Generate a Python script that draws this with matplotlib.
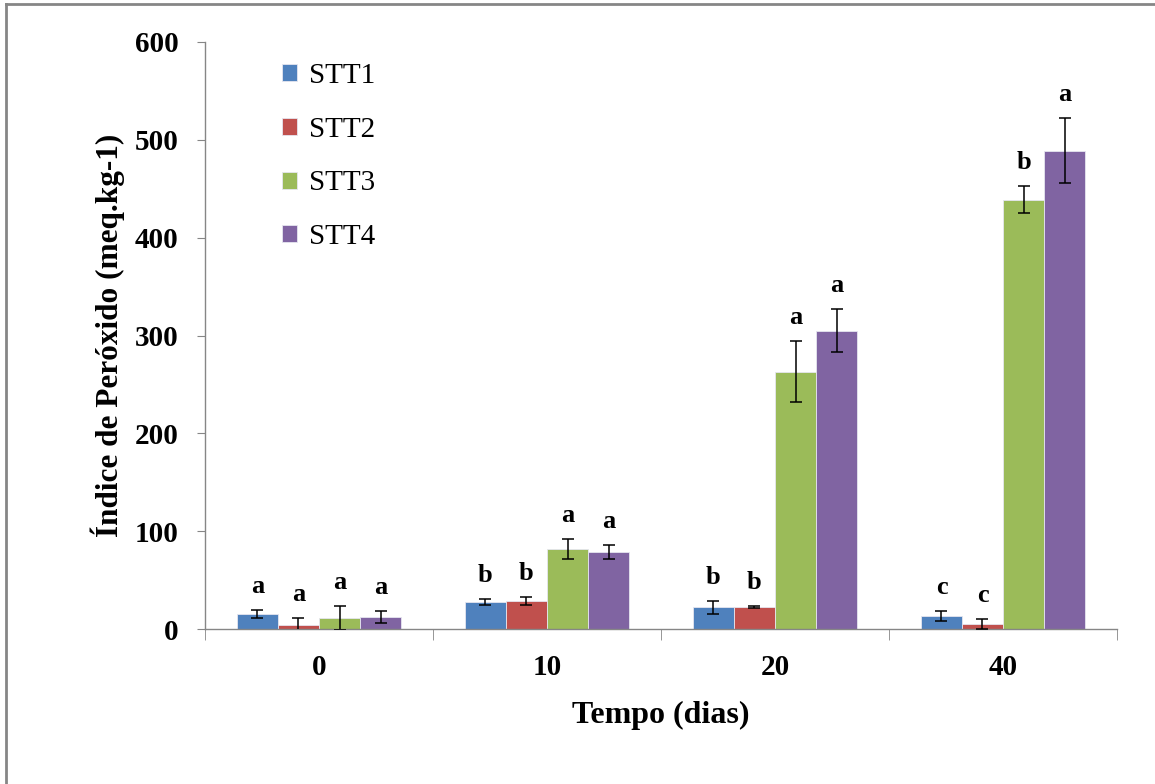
import matplotlib
matplotlib.use("Agg")
import matplotlib.pyplot as plt
import numpy as np
from matplotlib.lines import Line2D

days = ["0", "10", "20", "40"]
series = ["STT1", "STT2", "STT3", "STT4"]
values = {
    "STT1": [15, 28, 22, 13],
    "STT2": [4, 29, 22, 5],
    "STT3": [11, 82, 263, 439],
    "STT4": [12, 79, 305, 489],
}
errors = {
    "STT1": [4, 3, 7, 5],
    "STT2": [7, 4, 1, 5],
    "STT3": [12, 10, 31, 14],
    "STT4": [6, 7, 22, 33],
}
letters = {
    "STT1": ["a", "b", "b", "c"],
    "STT2": ["a", "b", "b", "c"],
    "STT3": ["a", "a", "a", "b"],
    "STT4": ["a", "a", "a", "a"],
}
colors = ["#4F81BD", "#C0504D", "#9BBB59", "#8064A2"]
yticks = [0, 100, 200, 300, 400, 500, 600]

serif = "Liberation Serif"
fig = plt.figure(figsize=(11.55, 7.84), dpi=100)
ax = fig.add_axes([205/1155, 1-629/784, (1117-205)/1155, (629-42)/784])

x = np.arange(len(days))
w = 0.18
for i, s in enumerate(series):
    xs = x + (i - 1.5) * w
    ax.bar(xs, values[s], width=w, color=colors[i], edgecolor="#E6E6F0",
           linewidth=0.6, label=s, zorder=2)
    ax.errorbar(xs, values[s], yerr=errors[s], fmt="none", ecolor="black",
                elinewidth=1.1, capsize=4, capthick=1.1, zorder=3)
    for xi, v, e, l in zip(xs, values[s], errors[s], letters[s]):
        ax.annotate(l, (xi, v + e), xytext=(0, 17), textcoords="offset points",
                    ha="center", va="center", fontsize=19, fontweight="bold",
                    family=serif)

ax.set_xlim(-0.5, 3.5)
ax.set_ylim(0, 600)
ax.set_yticks(yticks)
ax.set_yticklabels([str(t) for t in yticks], fontsize=21, fontweight="bold", family=serif)
ax.set_xticks(x)
ax.set_xticklabels(days, fontsize=21, fontweight="bold", family=serif)
ax.set_xticks(np.arange(-0.5, 4.0, 1.0), minor=True)
ax.tick_params(axis="x", which="major", length=0, pad=18)
ax.tick_params(axis="x", which="minor", length=8, color="#868686", direction="out")
ax.tick_params(axis="y", which="major", length=6, color="#868686", direction="out", pad=13)
for sp in ["top", "right"]:
    ax.spines[sp].set_visible(False)
for sp in ["left", "bottom"]:
    ax.spines[sp].set_color("#868686")
    ax.spines[sp].set_linewidth(1.0)

ax.set_xlabel("Tempo (dias)", fontsize=23, fontweight="bold", family=serif, labelpad=14)
ax.set_ylabel("Índice de Peróxido (meq.kg-1)", fontsize=22.5, fontweight="bold",
              family=serif, labelpad=7)

leg = ax.legend(loc="upper left", bbox_to_anchor=(0.056, 1.009), frameon=False,
                prop={"family": serif, "size": 21}, handlelength=0.52,
                handleheight=0.52, handletextpad=0.4, labelspacing=0.95)

# outer border (top and left only visible)
fig.add_artist(Line2D([6/1155, 1], [1-4/784, 1-4/784], transform=fig.transFigure,
                      color="#868686", linewidth=2))
fig.add_artist(Line2D([6/1155, 6/1155], [0, 1-4/784], transform=fig.transFigure,
                      color="#868686", linewidth=2))

fig.savefig("out.png", dpi=100)
